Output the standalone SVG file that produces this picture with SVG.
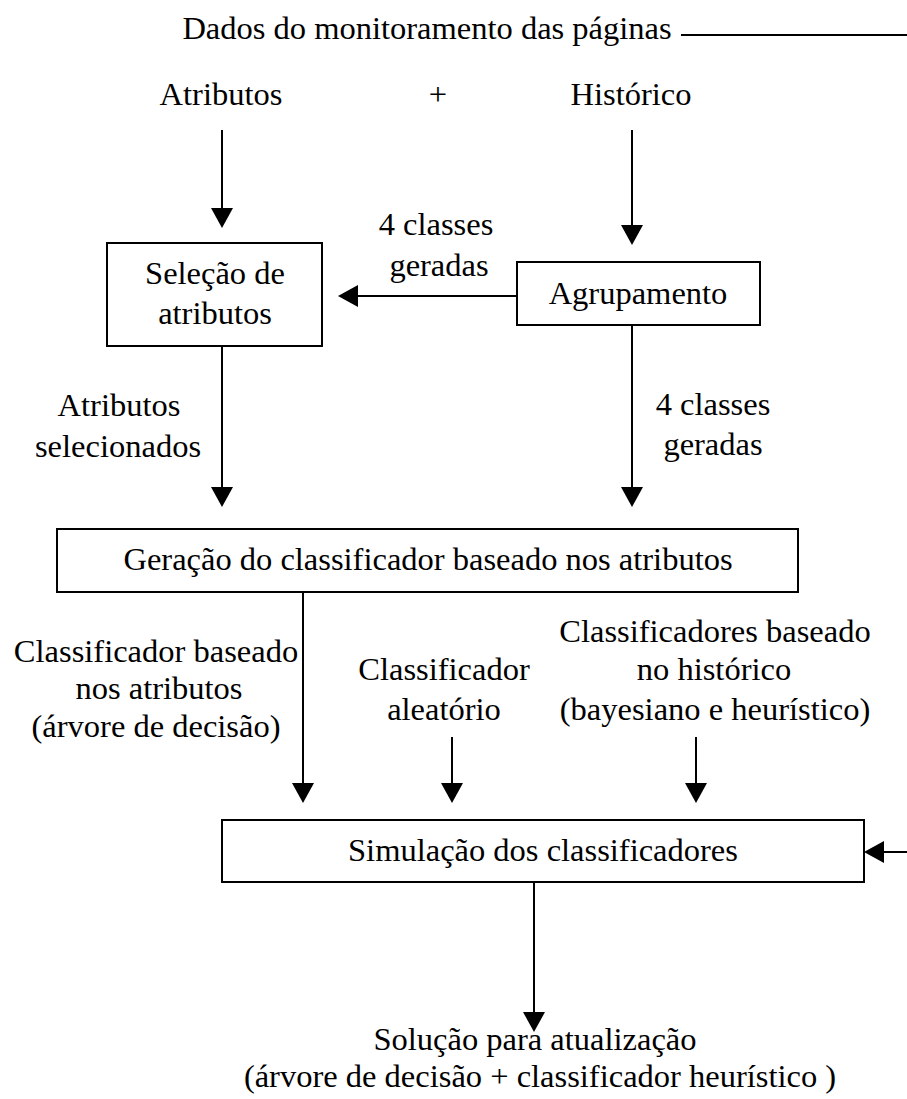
<svg xmlns="http://www.w3.org/2000/svg" width="907" height="1099" viewBox="0 0 907 1099">
  <style>
    text { font-family: "Liberation Serif", "Times New Roman", serif; font-size: 32.5px; fill: #000; text-anchor: middle; }
    .box { fill: #fff; stroke: #000; stroke-width: 2; }
    .edge { fill: none; stroke: #000; stroke-width: 2; }
  </style>
  <defs>
    <marker id="head" markerUnits="userSpaceOnUse" markerWidth="20" markerHeight="22" refX="10" refY="11" orient="auto">
      <path d="M0,0 L20,11 L0,22 Z" fill="#000"/>
    </marker>
  </defs>

  <rect width="907" height="1099" fill="#fff"/>

  <!-- input labels -->
  <g id="dados">
    <text x="427" y="39">Dados do monitoramento das páginas</text>
  </g>
  <g id="atributos">
    <text x="221" y="105">Atributos</text>
  </g>
  <g id="mais">
    <text x="438" y="105">+</text>
  </g>
  <g id="historico">
    <text x="631" y="105">Histórico</text>
  </g>

  <!-- process boxes -->
  <g id="selecao">
    <rect class="box" x="107" y="243" width="215" height="103"/>
    <text x="215" y="284">Seleção de</text>
    <text x="215" y="324">atributos</text>
  </g>
  <g id="agrupamento">
    <rect class="box" x="517" y="262" width="243" height="63"/>
    <text x="638" y="304">Agrupamento</text>
  </g>
  <g id="geracao">
    <rect class="box" x="57" y="529" width="741" height="63"/>
    <text x="428" y="570">Geração do classificador baseado nos atributos</text>
  </g>
  <g id="simulacao">
    <rect class="box" x="222" y="820" width="642" height="62"/>
    <text x="543" y="861">Simulação dos classificadores</text>
  </g>
  <g id="solucao">
    <text x="535" y="1050">Solução para atualização</text>
    <text x="540" y="1087">(árvore de decisão + classificador heurístico )</text>
  </g>

  <!-- edge labels -->
  <g id="label-classes-1">
    <text x="436" y="235">4 classes</text>
    <text x="439" y="276">geradas</text>
  </g>
  <g id="label-atributos-sel">
    <text x="119" y="416">Atributos</text>
    <text x="118" y="457">selecionados</text>
  </g>
  <g id="label-classes-2">
    <text x="713" y="415">4 classes</text>
    <text x="713" y="455">geradas</text>
  </g>
  <g id="label-arvore">
    <text x="156" y="662">Classificador baseado</text>
    <text x="159" y="699">nos atributos</text>
    <text x="156" y="737">(árvore de decisão)</text>
  </g>
  <g id="label-aleatorio">
    <text x="444" y="680">Classificador</text>
    <text x="444" y="720">aleatório</text>
  </g>
  <g id="label-historico">
    <text x="715" y="642">Classificadores baseado</text>
    <text x="714" y="680">no histórico</text>
    <text x="715" y="720">(bayesiano e heurístico)</text>
  </g>

  <!-- connectors -->
  <g id="connectors">
    <path class="edge" d="M681,35 H907"/>
    <path class="edge" d="M222,130 V218" marker-end="url(#head)"/>
    <path class="edge" d="M632,130 V235" marker-end="url(#head)"/>
    <path class="edge" d="M517,296 H348" marker-end="url(#head)"/>
    <path class="edge" d="M222,346 V497" marker-end="url(#head)"/>
    <path class="edge" d="M632,325 V497" marker-end="url(#head)"/>
    <path class="edge" d="M303,592 V793" marker-end="url(#head)"/>
    <path class="edge" d="M452,737 V793" marker-end="url(#head)"/>
    <path class="edge" d="M696,737 V793" marker-end="url(#head)"/>
    <path class="edge" d="M907,852 H874" marker-end="url(#head)"/>
    <path class="edge" d="M534,882 V1022" marker-end="url(#head)"/>
  </g>
</svg>
